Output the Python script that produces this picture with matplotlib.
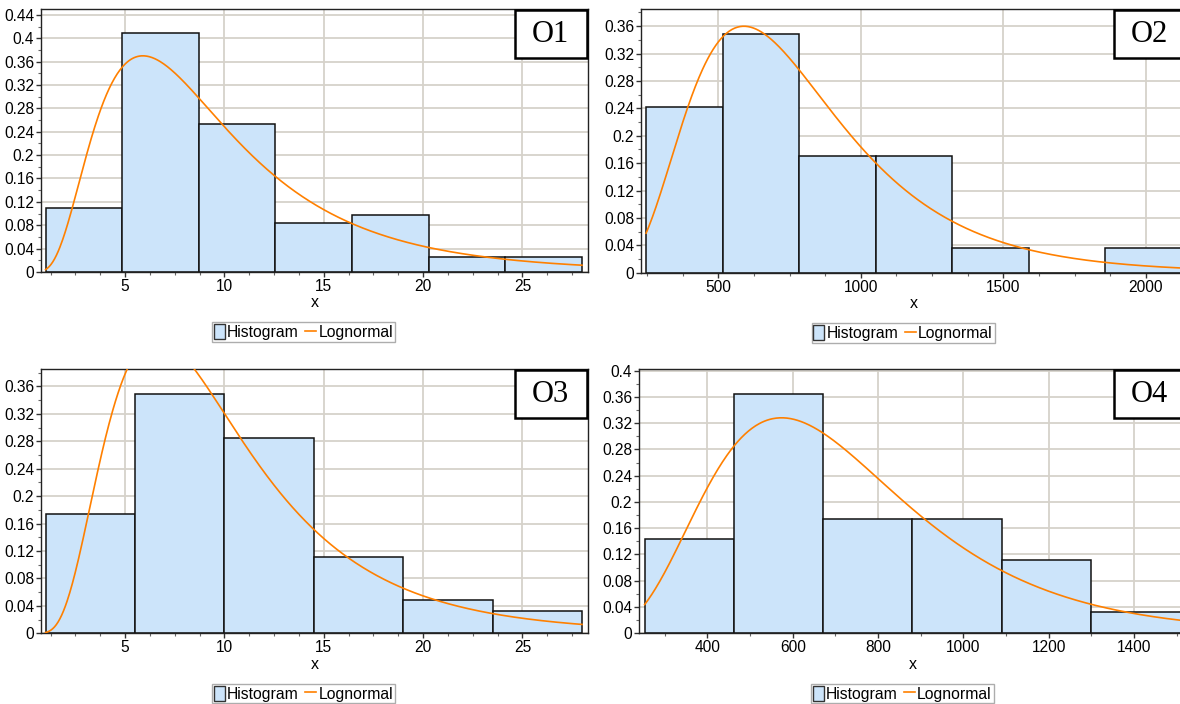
import numpy as np
import matplotlib
matplotlib.use("Agg")
import matplotlib.pyplot as plt
from matplotlib.ticker import MultipleLocator, AutoMinorLocator, FuncFormatter
from matplotlib.patches import Rectangle, Patch
from matplotlib.lines import Line2D

# ---------------- data ----------------
panel_names = ["O1", "O2", "O3", "O4"]

o1_edges = [1.0, 4.857, 8.714, 12.571, 16.429, 20.286, 24.143, 28.0]
o1_heights = [0.109, 0.409, 0.253, 0.0843, 0.0968, 0.025, 0.025]
o1_mu, o1_sigma = 2.125, 0.592

o2_edges = [247, 515.5, 784, 1052.5, 1321, 1589.5, 1858, 2126.5]
o2_heights = [0.2414, 0.349, 0.171, 0.171, 0.0355, 0.0, 0.0355]
o2_mu, o2_sigma = 6.587, 0.455

o3_edges = [1.0, 5.5, 10.0, 14.5, 19.0, 23.5, 28.0]
o3_heights = [0.1747, 0.349, 0.2853, 0.1115, 0.0489, 0.0329]
o3_mu, o3_sigma = 2.184, 0.547

o4_edges = [253, 462, 671, 880, 1090, 1300, 1509]
o4_heights = [0.1435, 0.3646, 0.1744, 0.1744, 0.1115, 0.0324]
o4_mu, o4_sigma = 6.519, 0.408

legend_labels = ["Histogram", "Lognormal"]

# ---------------- styling / layout ----------------
W, H = 1180, 704
plt.rcParams["font.family"] = ["Liberation Sans", "DejaVu Sans"]
BAR_FC = "#cce4fa"
CURVE_C = "#ff8000"
GRID_C = "#d6d2ca"

fig = plt.figure(figsize=(W / 100, H / 100), dpi=100)


def px_axes(l, t, r, b):
    return fig.add_axes([l / W, (H - b) / H, (r - l) / W, (b - t) / H])


panels = [
    dict(box=(41, 9, 588, 272), edges=o1_edges, h=o1_heights, mu=o1_mu, sg=o1_sigma,
         xlim=(0.77, 28.3), ylim=(0, 0.45), xmaj=5, xmin_div=4, ymaj=0.04),
    dict(box=(641, 9, 1187, 272.7), edges=o2_edges, h=o2_heights, mu=o2_mu, sg=o2_sigma,
         xlim=(229, 2144), ylim=(0, 0.385), xmaj=500, xmin_div=4, ymaj=0.04),
    dict(box=(41, 369.3, 588, 633.3), edges=o3_edges, h=o3_heights, mu=o3_mu, sg=o3_sigma,
         xlim=(0.77, 28.3), ylim=(0, 0.385), xmaj=5, xmin_div=4, ymaj=0.04),
    dict(box=(639.3, 369.3, 1187, 633.3), edges=o4_edges, h=o4_heights, mu=o4_mu, sg=o4_sigma,
         xlim=(240.5, 1524), ylim=(0, 0.402), xmaj=200, xmin_div=2, ymaj=0.04),
]

fmt = FuncFormatter(lambda v, p: ("%g" % round(v, 4)))

for name, P in zip(panel_names, panels):
    l, t, r, b = P["box"]
    ax = px_axes(l, t, r, b)
    axw, axh = r - l, b - t
    edges = np.array(P["edges"], dtype=float)
    heights = np.array(P["h"], dtype=float)
    widths = np.diff(edges)
    ax.bar(edges[:-1], heights, width=widths, align="edge", color=BAR_FC,
           edgecolor="#111111", linewidth=1.1, zorder=2)

    bw = widths.mean()
    xs = np.linspace(edges[0], edges[-1], 600)
    pdf = np.exp(-(np.log(xs) - P["mu"]) ** 2 / (2 * P["sg"] ** 2)) / (xs * P["sg"] * np.sqrt(2 * np.pi))
    ax.plot(xs, pdf * bw, color=CURVE_C, lw=1.2, zorder=3)

    ax.set_xlim(*P["xlim"])
    ax.set_ylim(*P["ylim"])
    ax.xaxis.set_major_locator(MultipleLocator(P["xmaj"]))
    ax.xaxis.set_minor_locator(AutoMinorLocator(P["xmin_div"]))
    ax.yaxis.set_major_locator(MultipleLocator(P["ymaj"]))
    ax.yaxis.set_minor_locator(AutoMinorLocator(2))
    ax.yaxis.set_major_formatter(fmt)
    ax.xaxis.set_major_formatter(fmt)
    ax.grid(True, which="major", color=GRID_C, lw=1.3, zorder=0)
    ax.set_axisbelow(True)
    ax.tick_params(axis="both", which="major", direction="out", length=3.5,
                   width=1, color="#333333", labelsize=11.2, pad=1.5)
    ax.tick_params(axis="both", which="minor", direction="out", length=2,
                   width=0.8, color="#666666")
    for s in ax.spines.values():
        s.set_color("#222222")
        s.set_linewidth(1.0)
    ax.set_xlabel("x", fontsize=11.5, labelpad=1)

    # label box in the top-right corner (72 x 48 px)
    bx0 = 1 - (72 + 1.3) / axw
    by0 = 1 - (48 + 1) / axh
    ax.add_patch(Rectangle((bx0, by0), 72 / axw, 48 / axh, transform=ax.transAxes,
                           facecolor="white", edgecolor="black", lw=1.8, zorder=5,
                           clip_on=False))
    ax.text(bx0 + 36 / axw, by0 + 24 / axh, name, transform=ax.transAxes,
            ha="center", va="center", fontsize=22, family="Liberation Serif", zorder=6)

    handles = [Patch(facecolor=BAR_FC, edgecolor="#333333", lw=1.0),
               Line2D([], [], color=CURVE_C, lw=1.2)]
    leg = ax.legend(handles, legend_labels, loc="center", ncol=2,
                    bbox_to_anchor=(0.48, -(60.3 / axh)), frameon=True, fancybox=False,
                    edgecolor="#999999", fontsize=11.3, borderpad=0.12,
                    handlelength=0.7, handleheight=1.1, handletextpad=0.15,
                    columnspacing=0.4, borderaxespad=0)
    leg.get_frame().set_linewidth(1.0)

fig.savefig("out.png", dpi=100)
